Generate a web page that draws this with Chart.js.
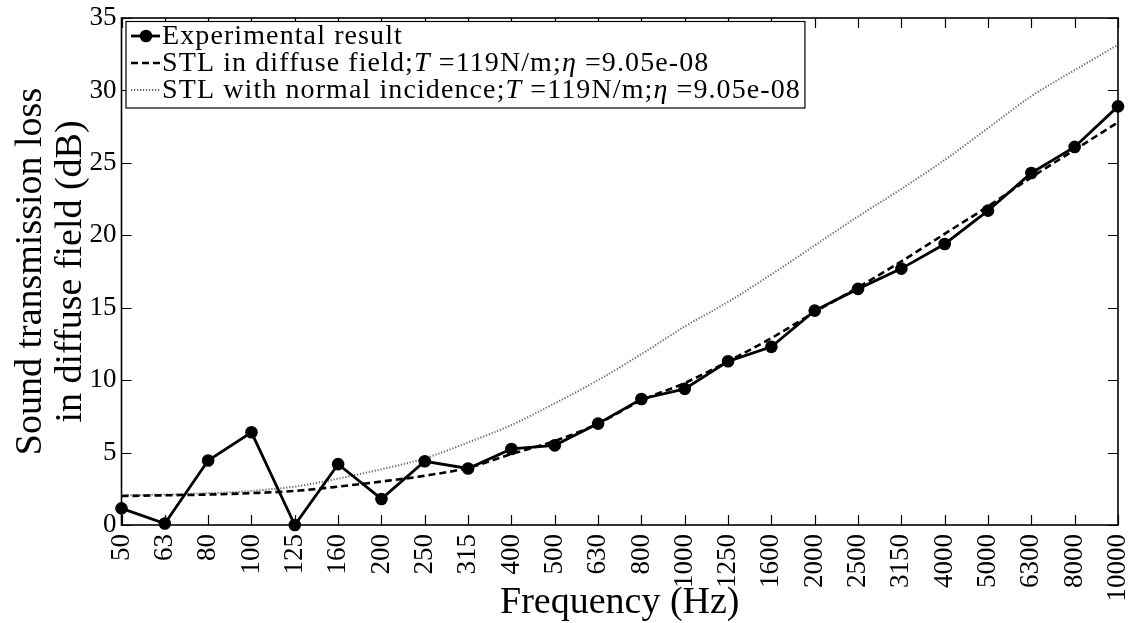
<!DOCTYPE html>
<html>
<head>
<meta charset="utf-8">
<script src="https://cdn.jsdelivr.net/npm/chart.js@4.4.1/dist/chart.umd.min.js"></script>
<style>
  html, body { margin: 0; padding: 0; background: #fff; }
  #wrap { width: 1135px; height: 623px; position: relative; }
</style>
</head>
<body>
<div id="wrap"><canvas id="stlChart"></canvas></div>
<script>
  "use strict";

  // 1/3 octave centre frequencies (Hz)
  const freqLabels = ["50", "63", "80", "100", "125", "160", "200", "250", "315", "400", "500", "630",
    "800", "1000", "1250", "1600", "2000", "2500", "3150", "4000", "5000", "6300", "8000", "10000"];

  // STL values in dB
  const experimental = [1.15, 0.1, 4.45, 6.4, 0.0, 4.2, 1.8, 4.4, 3.9, 5.25, 5.5, 7.0,
    8.7, 9.4, 11.3, 12.3, 14.8, 16.3, 17.7, 19.4, 21.7, 24.3, 26.1, 28.9];
  const diffuseField = [2.0, 2.05, 2.1, 2.2, 2.35, 2.65, 3.0, 3.4, 3.95, 4.9, 5.8, 7.0,
    8.6, 9.8, 11.3, 12.9, 14.7, 16.4, 18.2, 20.1, 22.0, 24.0, 25.9, 27.8];
  const normalIncidence = [2.05, 2.1, 2.2, 2.35, 2.65, 3.2, 3.85, 4.6, 5.7, 6.9, 8.4, 10.0,
    11.8, 13.7, 15.4, 17.3, 19.3, 21.3, 23.2, 25.2, 27.4, 29.6, 31.4, 33.15];

  const yTicks = [0, 5, 10, 15, 20, 25, 30, 35];

  // legend text, split where the math italics are
  const legendExperimental = [["Experimental result", false]];
  const legendDiffuse = [["STL in diffuse field;", false], ["T", true], [" =119N/m;", false], ["η", true], [" =9.05e-08", false]];
  const legendNormal = [["STL with normal incidence;", false], ["T", true], [" =119N/m;", false], ["η", true], [" =9.05e-08", false]];

  const SERIF = "'Liberation Serif', 'DejaVu Serif', serif";

  const frame = {
    id: "frame",
    beforeDatasetsDraw(chart) {
      const { ctx, chartArea: a, scales: { x, y } } = chart;
      ctx.save();
      ctx.strokeStyle = "#000";
      ctx.lineWidth = 1.2;
      ctx.beginPath();
      x.ticks.forEach((t, i) => {
        const px = Math.round(x.getPixelForTick(i)) + 0.5;
        ctx.moveTo(px, a.bottom); ctx.lineTo(px, a.bottom - 10);
        ctx.moveTo(px, a.top); ctx.lineTo(px, a.top + 10);
      });
      y.ticks.forEach((t, i) => {
        const py = Math.round(y.getPixelForTick(i)) + 0.5;
        ctx.moveTo(a.left, py); ctx.lineTo(a.left + 10, py);
        ctx.moveTo(a.right, py); ctx.lineTo(a.right - 10, py);
      });
      ctx.stroke();
      ctx.lineWidth = 1.6;
      ctx.strokeRect(a.left, a.top, a.right - a.left, a.bottom - a.top);
      ctx.restore();
    },
    afterDraw(chart) {
      const { ctx, chartArea: a } = chart;
      const ds = chart.data.datasets;
      const rows = [legendExperimental, legendDiffuse, legendNormal];
      const size = 28;
      const fontFor = (it) => `${it ? "italic " : ""}${size}px ${SERIF}`;
      ctx.save();
      ctx.letterSpacing = "1.1px";
      const widths = rows.map((segs) => segs.reduce((w, [s, it]) => {
        ctx.font = fontFor(it);
        return w + ctx.measureText(s).width;
      }, 0));
      const left = a.left + 4.5, top = a.top + 3.5;
      const textX = left + 36;
      const boxW = textX + Math.max(...widths) + 4 - left;
      const boxH = 86.5;
      ctx.fillStyle = "#fff";
      ctx.fillRect(left, top, boxW, boxH);
      ctx.strokeStyle = "#000";
      ctx.lineWidth = 1.2;
      ctx.strokeRect(left, top, boxW, boxH);

      rows.forEach((segs, i) => {
        const cy = top + 14.5 + i * 27;
        const d = ds[i];
        ctx.strokeStyle = d.borderColor;
        ctx.lineWidth = d.borderWidth;
        ctx.setLineDash(d.borderDash || []);
        ctx.beginPath();
        ctx.moveTo(left + 5, cy);
        ctx.lineTo(left + 34, cy);
        ctx.stroke();
        ctx.setLineDash([]);
        if (d.pointRadius) {
          ctx.fillStyle = d.pointBackgroundColor;
          ctx.beginPath();
          ctx.arc(left + 20, cy, d.pointRadius, 0, Math.PI * 2);
          ctx.fill();
        }
        let tx = textX;
        ctx.fillStyle = "#000";
        ctx.textBaseline = "middle";
        segs.forEach(([s, it]) => {
          ctx.font = fontFor(it);
          ctx.fillText(s, tx, cy + 1);
          tx += ctx.measureText(s).width;
        });
      });
      ctx.restore();
    }
  };

  new Chart(document.getElementById("stlChart"), {
    type: "line",
    data: {
      labels: freqLabels,
      datasets: [
        {
          label: "Experimental result",
          data: experimental,
          order: 0,
          borderColor: "#000",
          borderWidth: 2.8,
          pointRadius: 6.3,
          pointBackgroundColor: "#000",
          pointBorderWidth: 0,
          tension: 0,
          clip: false
        },
        {
          label: "STL in diffuse field",
          data: diffuseField,
          order: 1,
          borderColor: "#000",
          borderWidth: 2.6,
          borderDash: [7, 4],
          pointRadius: 0,
          cubicInterpolationMode: "monotone",
          clip: false
        },
        {
          label: "STL with normal incidence",
          data: normalIncidence,
          order: 2,
          borderColor: "#666",
          borderWidth: 2,
          borderDash: [1.2, 1.8],
          pointRadius: 0,
          cubicInterpolationMode: "monotone",
          clip: false
        }
      ]
    },
    options: {
      responsive: true,
      maintainAspectRatio: false,
      animation: false,
      layout: { padding: { top: 18, right: 17, left: 0, bottom: 0 } },
      plugins: { legend: { display: false }, tooltip: { enabled: false } },
      scales: {
        x: {
          offset: false,
          grid: { display: false, drawTicks: false },
          border: { display: false },
          ticks: {
            autoSkip: false,
            minRotation: 90,
            maxRotation: 90,
            padding: 9,
            color: "#000",
            font: { family: SERIF, size: 27 }
          },
          title: {
            display: true,
            text: "Frequency (Hz)",
            color: "#000",
            font: { family: SERIF, size: 38, lineHeight: 1.0 },
            padding: { top: 0, bottom: 1 }
          },
          afterFit: (s) => { s.height = 98; s.paddingLeft = 0; s.paddingRight = 0; }
        },
        y: {
          min: 0,
          max: 35,
          afterBuildTicks: (s) => { s.ticks = yTicks.map((v) => ({ value: v })); },
          grid: { display: false, drawTicks: false },
          border: { display: false },
          ticks: {
            padding: 5,
            color: "#000",
            font: { family: SERIF, size: 27 }
          },
          title: {
            display: true,
            text: ["Sound transmission loss", "in diffuse field (dB)"],
            color: "#000",
            font: { family: SERIF, size: 38, lineHeight: 1.05 },
            padding: { top: 11, bottom: 0 }
          },
          afterFit: (s) => { s.width = 121.5; s.paddingTop = 0; s.paddingBottom = 0; }
        }
      }
    },
    plugins: [frame]
  });
</script>
</body>
</html>
